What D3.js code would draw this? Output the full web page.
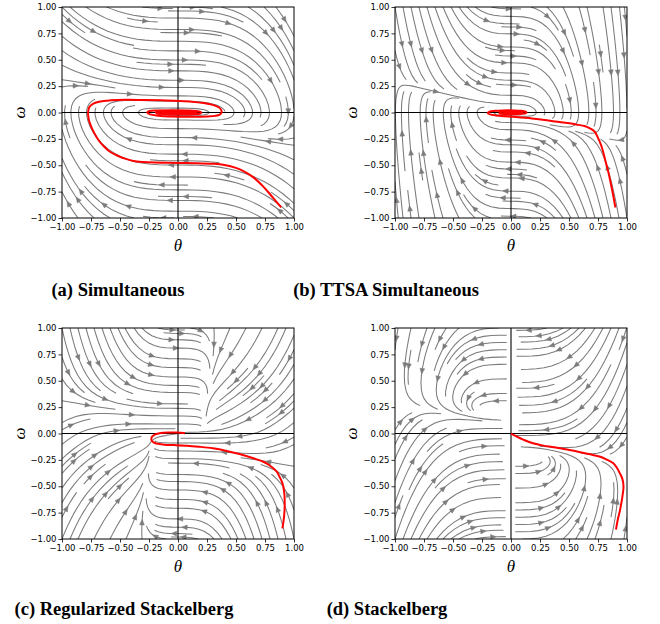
<!DOCTYPE html>
<html>
<head>
<meta charset="utf-8">
<script src="https://cdn.jsdelivr.net/npm/d3@7"></script>
<style>
  body { margin: 0; background: #fff; }
  svg { display: block; }
</style>
</head>
<body>
<svg id="chart" width="660" height="624"></svg>
<script>
// ---- data ----
const panelTitles = ["(a) Simultaneous", "(b) TTSA Simultaneous", "(c) Regularized Stackelberg", "(d) Stackelberg"];
const tickValues = [-1, -0.75, -0.5, -0.25, 0, 0.25, 0.5, 0.75, 1];

// red trajectories, [theta, omega]
const redSimultaneous = [
  [0.89, -0.9], [0.84, -0.835], [0.79, -0.77], [0.72, -0.685], [0.65, -0.615], [0.58, -0.565], [0.5, -0.525],
  [0.4, -0.497], [0.3, -0.486], [0.15, -0.48], [0, -0.478], [-0.2, -0.475], [-0.3, -0.47], [-0.385, -0.46],
  [-0.45, -0.44], [-0.52, -0.41], [-0.59, -0.37], [-0.64, -0.32], [-0.68, -0.27], [-0.72, -0.2], [-0.75, -0.13],
  [-0.77, -0.06], [-0.775, 0], [-0.765, 0.05], [-0.73, 0.085], [-0.67, 0.105], [-0.58, 0.115], [-0.45, 0.12],
  [-0.3, 0.118], [-0.15, 0.115], [0, 0.11], [0.12, 0.103], [0.22, 0.09], [0.3, 0.072], [0.35, 0.05],
  [0.372, 0.025], [0.375, 0], [0.36, -0.02], [0.32, -0.032], [0.25, -0.038], [0.1, -0.04], [-0.05, -0.038],
  [-0.17, -0.03], [-0.24, -0.018], [-0.265, 0], [-0.245, 0.014], [-0.18, 0.02], [-0.05, 0.022], [0.08, 0.02],
  [0.17, 0.013], [0.2, 0.002], [0.19, -0.01], [0.13, -0.016], [0, -0.017], [-0.12, -0.014], [-0.18, -0.007],
  [-0.19, 0.002], [-0.15, 0.009], [-0.05, 0.011], [0.07, 0.009], [0.15, 0.004], [0.16, -0.003], [0.1, -0.008],
  [-0.02, -0.008], [-0.12, -0.004], [-0.14, 0.002], [-0.08, 0.005], [0.05, 0.004], [0.11, 0], [0.05, -0.004],
  [-0.06, -0.003], [-0.09, 0], [-0.03, 0.002], [0.04, 0.001], [0, 0]
];
const redTTSA = [
  [0.9, -0.9], [0.88, -0.78], [0.86, -0.67], [0.84, -0.57], [0.81, -0.44], [0.78, -0.32], [0.75, -0.24],
  [0.72, -0.18], [0.68, -0.15], [0.64, -0.13], [0.56, -0.113], [0.49, -0.1], [0.38, -0.085], [0.29, -0.07],
  [0.18, -0.056], [0.09, -0.047], [0.02, -0.04], [-0.06, -0.035], [-0.13, -0.028], [-0.18, -0.018],
  [-0.2, -0.006], [-0.185, 0.008], [-0.14, 0.016], [-0.07, 0.02], [0.02, 0.02], [0.09, 0.016], [0.13, 0.006],
  [0.13, -0.006], [0.08, -0.014], [0, -0.017], [-0.07, -0.014], [-0.1, -0.006], [-0.09, 0.005], [-0.03, 0.011],
  [0.05, 0.011], [0.1, 0.004], [0.08, -0.006], [0.01, -0.009], [-0.05, -0.005], [-0.06, 0.002], [-0.01, 0.006],
  [0.05, 0.004], [0.05, -0.003], [0, -0.004], [-0.02, 0], [0, 0]
];
const redRegularized = [
  [0.9, -0.9], [0.915, -0.78], [0.92, -0.65], [0.915, -0.55], [0.9, -0.47], [0.875, -0.41], [0.85, -0.36],
  [0.8, -0.31], [0.74, -0.27], [0.65, -0.235], [0.53, -0.195], [0.42, -0.165], [0.3, -0.14], [0.18, -0.125],
  [0.075, -0.115], [-0.03, -0.11], [-0.1, -0.108], [-0.16, -0.1], [-0.2, -0.09], [-0.225, -0.07], [-0.23, -0.05],
  [-0.22, -0.025], [-0.2, -0.01], [-0.16, 0.002], [-0.13, 0.008], [-0.07, 0.01], [-0.01, 0.01], [0.03, 0.006],
  [0.06, 0.003]
];
const redStackelberg = [
  [0.905, -0.91], [0.92, -0.82], [0.94, -0.725], [0.96, -0.6], [0.97, -0.5], [0.96, -0.43], [0.94, -0.38],
  [0.91, -0.32], [0.88, -0.28], [0.83, -0.25], [0.77, -0.22], [0.67, -0.195], [0.57, -0.17], [0.47, -0.15],
  [0.37, -0.13], [0.28, -0.115], [0.19, -0.093], [0.11, -0.06], [0.05, -0.03], [0, 0]
];

// ---- vector fields of the four learning dynamics (theta', omega') ----
const C = 3.5, K = 0.45, TAU = 6, GAP = 0.035;
function fieldSimultaneous(t, w) { return [w, -K * t * t * (t + C * w)]; }
function fieldTTSA(t, w) { return [w, -TAU * K * t * t * (t + C * w)]; }
function fieldRegularized(t, w) {
  const tStar = (0.22 + 0.1 * Math.abs(w)) * Math.tanh(w / 0.04);
  const g = 0.15 + 0.85 * (1 + Math.tanh(6 * t * w)) / 2;
  return [-g * (t - tStar), -0.42 * t * t * (t + C * w)];
}
function fieldStackelberg(t, w) {
  if (Math.abs(t) < GAP) return null;
  const s = 0.4 + 0.015 / (t * t);
  return [-(w + 0.48 * t + 0.1 * Math.sign(t)) * s, -0.5 * t * t * (t + C * w)];
}

// ---- matplotlib-like streamplot (density 1) in axes coordinates ----
function spiralSeeds(n) {
  const out = [];
  let xfirst = 0, yfirst = 1, xlast = n - 1, ylast = n - 1, x = 0, y = 0, dir = 0;
  for (let i = 0; i < n * n; i++) {
    out.push([x, y]);
    if (dir === 0) { x++; if (x >= xlast) { xlast--; dir = 1; } }
    else if (dir === 1) { y++; if (y >= ylast) { ylast--; dir = 2; } }
    else if (dir === 2) { x--; if (x <= xfirst) { xfirst++; dir = 3; } }
    else { y--; if (y <= yfirst) { yfirst++; dir = 0; } }
  }
  return out;
}

function streamlines(field) {
  const NM = 30, maxds = 1 / NM, maxerror = 0.003, maxlength = 4, minlength = 0.1;
  const mask = new Uint8Array(NM * NM);
  const OUT = {}, TERM = {}, BLOCKED = {};
  let traj = [], cur = -1;
  const inside = (x, y) => x >= 0 && x <= 1 && y >= 0 && y <= 1;
  const cell = (x, y) => Math.round(y * (NM - 1)) * NM + Math.round(x * (NM - 1));

  function mark(x, y) {
    if (!inside(x, y)) throw BLOCKED;
    const k = cell(x, y);
    if (k !== cur) {
      if (mask[k]) throw BLOCKED;
      mask[k] = 1; traj.push(k); cur = k;
    }
  }
  function direction(x, y, sgn) {
    if (!inside(x, y)) throw OUT;
    const v = field(2 * x - 1, 2 * y - 1);
    if (!v) throw TERM;
    const sp = Math.hypot(v[0], v[1]);
    if (!(sp > 0)) throw TERM;
    return [sgn * v[0] / sp, sgn * v[1] / sp];
  }
  function eulerToEdge(pts, sgn) {
    const [xi, yi] = pts[pts.length - 1];
    let c;
    try { c = direction(xi, yi, sgn); } catch (e) { return 0; }
    const dsx = c[0] === 0 ? Infinity : c[0] < 0 ? xi / -c[0] : (1 - xi) / c[0];
    const dsy = c[1] === 0 ? Infinity : c[1] < 0 ? yi / -c[1] : (1 - yi) / c[1];
    const ds = Math.min(dsx, dsy);
    pts.push([xi + c[0] * ds, yi + c[1] * ds]);
    return ds;
  }
  function rk12(x0, y0, sgn) {
    let ds = maxds, stotal = 0, xi = x0, yi = y0;
    const pts = [];
    while (true) {
      let k1, k2;
      try {
        if (inside(xi, yi)) pts.push([xi, yi]); else throw OUT;
        k1 = direction(xi, yi, sgn);
        k2 = direction(xi + ds * k1[0], yi + ds * k1[1], sgn);
      } catch (e) {
        if (e === OUT && pts.length) stotal += eulerToEdge(pts, sgn);
        break;
      }
      const dx1 = ds * k1[0], dy1 = ds * k1[1];
      const dx2 = ds * 0.5 * (k1[0] + k2[0]), dy2 = ds * 0.5 * (k1[1] + k2[1]);
      const error = Math.hypot(dx2 - dx1, dy2 - dy1);
      if (error < maxerror) {
        xi += dx2; yi += dy2;
        try { mark(xi, yi); } catch (e) { break; }
        if (stotal + ds > maxlength) break;
        stotal += ds;
      }
      ds = error === 0 ? maxds : Math.min(maxds, 0.85 * ds * Math.sqrt(maxerror / error));
    }
    return [stotal, pts];
  }
  function integrate(x0, y0) {
    traj = []; cur = -1;
    try { mark(x0, y0); } catch (e) { return null; }
    const [sb, pb] = rk12(x0, y0, -1);
    cur = cell(x0, y0);
    const [sf, pf] = rk12(x0, y0, 1);
    const pts = pb.reverse().concat(pf.slice(1));
    if (sb + sf > minlength && pts.length > 1) return pts;
    for (const k of traj) mask[k] = 0;
    return null;
  }

  const lines = [];
  for (const [xm, ym] of spiralSeeds(NM)) {
    if (mask[ym * NM + xm]) continue;
    const t = integrate(xm / (NM - 1), ym / (NM - 1));
    if (t) lines.push(t.map(([a, b]) => [2 * a - 1, 2 * b - 1]));
  }
  return lines;
}

// ---- layout ----
const panels = [
  { title: panelTitles[0], field: fieldSimultaneous, red: redSimultaneous, left: 62, top: 7, capX: 118, capY: 296, labX: 20 },
  { title: panelTitles[1], field: fieldTTSA, red: redTTSA, left: 395, top: 7, capX: 386, capY: 296, labX: 352 },
  { title: panelTitles[2], field: fieldRegularized, red: redRegularized, left: 62, top: 328, capX: 124, capY: 615, labX: 20 },
  { title: panelTitles[3], field: fieldStackelberg, red: redStackelberg, left: 395, top: 328, capX: 387, capY: 615, labX: 352 }
];
const plotW = 232, plotH = 211;
const gray = "#7b7b7b";

const svg = d3.select("#chart");

panels.forEach((p, i) => {
  const x = d3.scaleLinear().domain([-1, 1]).range([p.left, p.left + plotW]);
  const y = d3.scaleLinear().domain([-1, 1]).range([p.top + plotH, p.top]);
  const clipId = "clip" + i;

  svg.append("defs").append("clipPath").attr("id", clipId)
    .append("rect").attr("x", p.left).attr("y", p.top).attr("width", plotW).attr("height", plotH);

  const g = svg.append("g").attr("clip-path", `url(#${clipId})`);
  const line = d3.line().x(d => x(d[0])).y(d => y(d[1]));

  const lines = streamlines(p.field);
  g.append("g").selectAll("path").data(lines).join("path")
    .attr("d", line).attr("fill", "none").attr("stroke", gray).attr("stroke-width", 1.05);

  // arrow heads halfway along each streamline
  const heads = [];
  for (const pts of lines) {
    const s = [];
    let acc = 0;
    for (let j = 1; j < pts.length; j++) {
      acc += Math.hypot(pts[j][0] - pts[j - 1][0], pts[j][1] - pts[j - 1][1]);
      s.push(acc);
    }
    const half = acc / 2;
    const n = s.findIndex(v => v >= half);
    if (n < 0) continue;
    const tail = pts[n], next = pts[n + 1];
    const hx = (tail[0] + next[0]) / 2, hy = (tail[1] + next[1]) / 2;
    let dx = x(next[0]) - x(tail[0]), dy = y(next[1]) - y(tail[1]);
    const len = Math.hypot(dx, dy);
    if (!(len > 0)) continue;
    dx /= len; dy /= len;
    const px = x(hx) + dx * 2, py = y(hy) + dy * 2;
    const L = 5.5, W = 2.4;
    const bx = px - dx * L, by = py - dy * L;
    heads.push([[px, py], [bx - dy * W, by + dx * W], [bx + dy * W, by - dx * W]]);
  }
  g.append("g").selectAll("path").data(heads).join("path")
    .attr("d", d => "M" + d.map(q => q.join(",")).join("L") + "Z")
    .attr("fill", gray).attr("stroke", gray).attr("stroke-width", 0.5);

  // zero lines
  g.append("line").attr("x1", x(-1)).attr("x2", x(1)).attr("y1", y(0)).attr("y2", y(0))
    .attr("stroke", "#000").attr("stroke-width", 1.1);
  g.append("line").attr("x1", x(0)).attr("x2", x(0)).attr("y1", y(-1)).attr("y2", y(1))
    .attr("stroke", "#000").attr("stroke-width", 1.1);

  // red trajectory
  g.append("path").datum(p.red).attr("d", line.curve(d3.curveCatmullRom))
    .attr("fill", "none").attr("stroke", "#ff0000").attr("stroke-width", 2)
    .attr("stroke-linejoin", "round");

  // frame
  svg.append("rect").attr("x", p.left).attr("y", p.top).attr("width", plotW).attr("height", plotH)
    .attr("fill", "none").attr("stroke", "#000").attr("stroke-width", 1);

  const fmt = d3.format(".2f");
  const xAxis = svg.append("g").attr("transform", `translate(0,${p.top + plotH})`)
    .call(d3.axisBottom(x).tickValues(tickValues).tickFormat(fmt).tickSize(3.5).tickSizeOuter(0).tickPadding(2));
  const yAxis = svg.append("g").attr("transform", `translate(${p.left},0)`)
    .call(d3.axisLeft(y).tickValues(tickValues).tickFormat(fmt).tickSize(3.5).tickSizeOuter(0).tickPadding(2));
  [xAxis, yAxis].forEach(ax => {
    ax.select(".domain").remove();
    ax.selectAll("text").attr("font-family", "DejaVu Sans").attr("font-size", 8.5).attr("fill", "#000");
    ax.selectAll("line").attr("stroke", "#000").attr("stroke-width", 0.8);
  });

  // axis labels
  svg.append("text").attr("x", x(0)).attr("y", p.top + plotH + 33)
    .attr("text-anchor", "middle").attr("font-family", "Liberation Serif").attr("font-style", "italic")
    .attr("font-size", 17).text("θ");
  svg.append("text").attr("transform", `translate(${p.labX + 5},${y(0)}) rotate(-90)`)
    .attr("text-anchor", "middle").attr("font-family", "Liberation Serif").attr("font-style", "italic")
    .attr("font-size", 17).text("ω");

  // caption
  svg.append("text").attr("x", p.capX).attr("y", p.capY)
    .attr("text-anchor", "middle").attr("font-family", "Liberation Serif").attr("font-weight", "bold")
    .attr("font-size", 18.5).text(p.title);
});
</script>
</body>
</html>
